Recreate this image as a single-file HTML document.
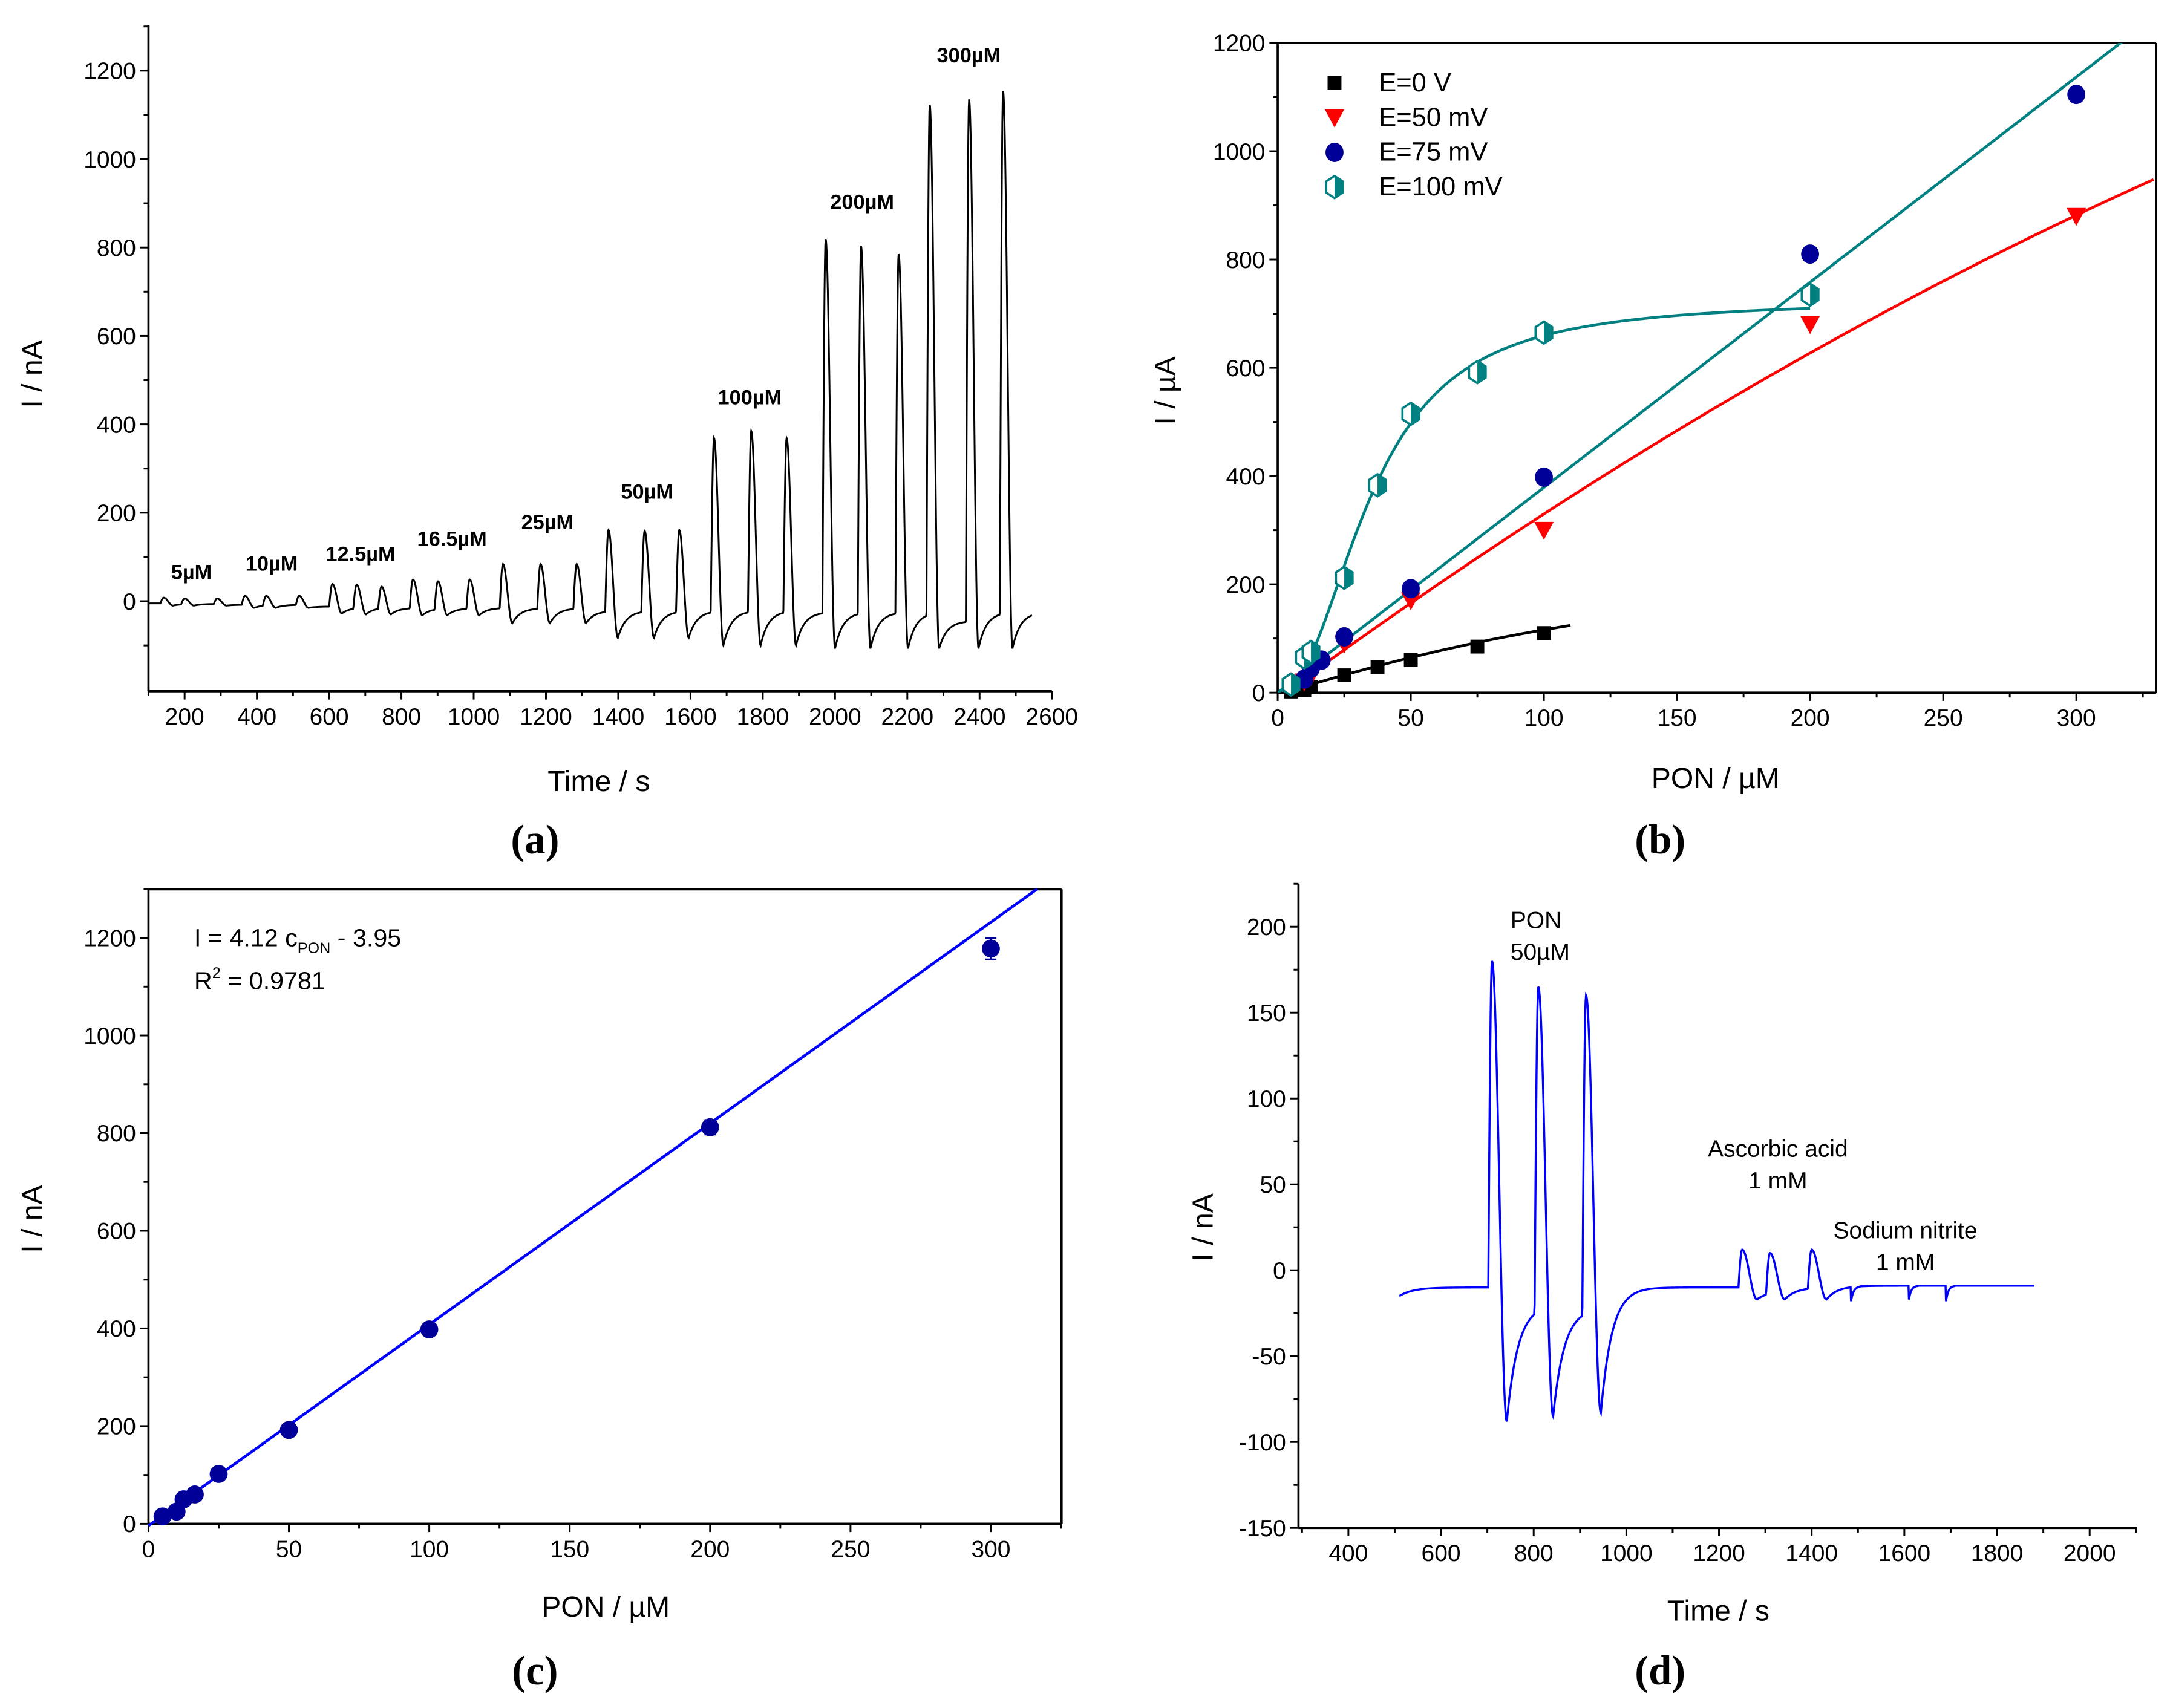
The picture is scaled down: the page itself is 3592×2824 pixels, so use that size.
<!DOCTYPE html>
<html><head><meta charset="utf-8"><style>
html,body{margin:0;padding:0;background:#fff;}
svg{display:block;}
text{font-family:"Liberation Sans",sans-serif;fill:#000;}
.n{font-family:"Liberation Sans Narrow","Liberation Sans",sans-serif;}
.s{font-family:"Liberation Serif",serif;font-weight:bold;}
</style></head><body>
<svg id="fig" xmlns="http://www.w3.org/2000/svg" width="3592" height="2824" viewBox="0 0 1568 1233"></svg>
<script>
// ---------- data ----------
// Panel (a)
const aPeakT=[142,200,290,367,426,517,609,676,745,832,901,989,1081,1185,1285,1373,1473,1569,1665,1768,1866,1974,2072,2176,2262,2371,2465];
const aPeakV=[8,6,6,12,12,12,39,37,33,49,45,49,84,84,84,161,159,161,369,385,369,819,803,785,1123,1135,1154];
const aPreV=[-5,-6,-6,-8,-8,-8,-12,-14,-14,-15,-16,-16,-15,-16,-16,-22,-22,-22,-22,-22,-22,-25,-25,-25,-25,-45,-25];
const aTroughV=[-10,-10,-10,-15,-15,-15,-28,-30,-30,-32,-32,-32,-50,-50,-50,-83,-83,-83,-100,-100,-100,-107,-107,-107,-107,-107,-107];
const aLabels=["5µM","10µM","12.5µM","16.5µM","25µM","50µM","100µM","200µM","300µM"];
const aLabelT=[219,441,687,940,1204,1480,1764,2075,2370];
const aLabelV=[50,69,91,125,163,232,445,887,1219];
// Panel (b)
const bX0=[5,10,12.5,25,37.5,50,75,100];
const bY0=[2,5,10,32,47,60,85,110];
const bX50=[5,10,12.5,25,50,100,200,300];
const bY50=[10,20,30,90,170,300,680,880];
const bX75=[5,10,12.5,16.5,25,50,100,200,300];
const bY75=[15,25,45,60,103,192,398,810,1105];
const bX100=[5,10,12.5,25,37.5,50,75,100,200];
const bY100=[15,65,75,212,383,515,592,665,735];
const bLegend=["E=0 V","E=50 mV","E=75 mV","E=100 mV"];
// Panel (c)
const cX=[5,10,12.5,16.5,25,50,100,200,300];
const cY=[15,25,50,60,102,192,398,812,1178];
const cErr=[3,3,3,3,4,5,6,15,22];
const cSlope=4.12, cIntercept=-3.95;
// Panel (d)
const dPeakT=[710,810,913,1250,1310,1400];
const dPeakV=[180,165,160,12,10,12];
const dPreV=[-10,-20,-22,-10,-12,-10];
const dTroughV=[-88,-85,-83,-17,-17,-17];
const dStepT=[1485,1610,1690];
const dStepV=[-18,-17,-18];
// ---------- helpers ----------
const svg=document.getElementById('fig');
const NS='http://www.w3.org/2000/svg';
function mk(tag,attrs,name,parent){
  const e=document.createElementNS(NS,tag);
  for(const k in attrs) e.setAttribute(k,attrs[k]);
  
  
  (parent||svg).appendChild(e);
  return e;
}
function txt(x,y,s,name,opt){
  opt=opt||{};
  const t=mk('text',{x:x,y:y,'font-size':opt.size||16,'text-anchor':opt.anchor||'middle',class:opt.cls||'',fill:opt.fill||'#000'},name,opt.parent);
  if(opt.rot) t.setAttribute('transform','rotate(-90 '+x+' '+y+')');
  if(opt.bold) t.setAttribute('font-weight','bold');
  t.textContent=s;
  return t;
}
function scale(d0,d1,r0,r1){return v=>r0+(v-d0)*(r1-r0)/(d1-d0);}
function axes(p){
  const g=mk('g',{},p.name+'-axes');
  const X=p.X,Y=p.Y;
  mk('line',{x1:p.l,y1:p.b,x2:p.r,y2:p.b,stroke:'#000','stroke-width':1.6},p.name+'-x-axis',g);
  mk('line',{x1:p.l,y1:p.t,x2:p.l,y2:p.b,stroke:'#000','stroke-width':1.6},p.name+'-y-axis',g);
  if(p.frame){
    mk('line',{x1:p.l,y1:p.t,x2:p.r,y2:p.t,stroke:'#000','stroke-width':1.6},p.name+'-top-frame',g);
    mk('line',{x1:p.r,y1:p.t,x2:p.r,y2:p.b,stroke:'#000','stroke-width':1.6},p.name+'-right-frame',g);
  }
  for(let v=p.xm0; v<=p.xmax+1e-6; v+=p.xminor){
    const major=Math.abs(((v-p.xM0)/p.xmajor)-Math.round((v-p.xM0)/p.xmajor))<1e-6;
    mk('line',{x1:X(v),y1:p.b,x2:X(v),y2:p.b+(major?6:3.5),stroke:'#000','stroke-width':1.3},p.name+'-x-tick',g);
    if(major) txt(X(v),p.b+24,String(v),p.name+'-x-tick-label',{size:p.fs,cls:p.cls,parent:g});
  }
  for(let v=p.ym0; v<=p.ymax+1e-6; v+=p.yminor){
    const major=Math.abs(((v-p.yM0)/p.ymajor)-Math.round((v-p.yM0)/p.ymajor))<1e-6 && v>=p.yLab0;
    mk('line',{x1:p.l,y1:Y(v),x2:p.l-(major?6:3.5),y2:Y(v),stroke:'#000','stroke-width':1.3},p.name+'-y-tick',g);
    if(major) txt(p.l-9,Y(v)+6,String(v),p.name+'-y-tick-label',{size:p.fs,anchor:'end',cls:p.cls,parent:g});
  }
}
function path(pts,X,Y){
  return pts.map((p,i)=>(i?'L':'M')+X(p[0]).toFixed(2)+' '+Y(p[1]).toFixed(2)).join('');
}
function trace(t0,t1,startV,endV,T,P,Pre,Tr,rise,fall,tau,stT,stV){
  const pts=[];
  function baseAt(t){
    let idx=-1;
    for(let i=0;i<T.length;i++) if(T[i]-rise<=t) idx=i;
    const target=(idx+1<T.length)?Pre[idx+1]:endV;
    if(idx<0) return startV+(Pre[0]-startV)*(1-Math.exp(-(t-t0)/30));
    const tp=T[idx];
    if(t<=tp) { const f=(t-(tp-rise))/rise; return Pre[idx]+(P[idx]-Pre[idx])*Math.sin(f*Math.PI/2); }
    if(t<=tp+fall){ const f=(t-tp)/fall; return P[idx]+(Tr[idx]-P[idx])*(0.5-0.5*Math.cos(f*Math.PI)); }
    return target+(Tr[idx]-target)*Math.exp(-(t-tp-fall)/tau);
  }
  for(let t=t0;t<=t1;t+=1){
    let v=baseAt(t);
    if(stT){ for(let i=0;i<stT.length;i++){ const dt=t-stT[i]; if(dt>=0&&dt<20) v+= (stV[i]-v)*Math.exp(-dt/5); } }
    pts.push([t,v]);
  }
  return pts;
}
// ---------- panel (a) ----------
(function(){
  const p={name:'panel-a',l:107,r:759,t:18,b:499,fs:17,cls:''};
  p.X=scale(100,2600,107,759); p.Y=scale(0,1200,434,51);
  p.xm0=100;p.xmax=2600;p.xminor=100;p.xM0=200;p.xmajor=200;
  p.ym0=-100;p.ymax=1300;p.yminor=100;p.yM0=0;p.ymajor=200;p.yLab0=0;
  axes(p);
  const pts=trace(100,2545,-5,-25,aPeakT,aPeakV,aPreV,aTroughV,9,26,22);
  mk('path',{d:path(pts,p.X,p.Y),fill:'none',stroke:'#000','stroke-width':1.3},'panel-a-current-trace');
  for(let i=0;i<aLabels.length;i++) txt(p.X(aLabelT[i]),p.Y(aLabelV[i]),aLabels[i],'panel-a-concentration-label',{size:15,bold:true});
  txt(30,270,'I / nA','panel-a-y-axis-title',{size:21,rot:true});
  txt(432,571,'Time / s','panel-a-x-axis-title',{size:21});
  txt(386,616,'(a)','panel-a-caption',{size:30,cls:'s'});
})();
// ---------- panel (b) ----------
(function(){
  const p={name:'panel-b',l:922,r:1556,t:31,b:500,fs:17,cls:'n',frame:true};
  p.X=scale(0,330,922,1556); p.Y=scale(0,1200,500,31);
  p.xm0=0;p.xmax=325;p.xminor=25;p.xM0=0;p.xmajor=50;
  p.ym0=0;p.ymax=1200;p.yminor=100;p.yM0=0;p.ymajor=200;p.yLab0=0;
  axes(p);
  const X=p.X,Y=p.Y;
  const clipR=mk('clipPath',{id:'clipb'},'panel-b-clip');
  mk('rect',{x:922,y:31,width:634,height:469},'panel-b-clip-rect',clipR);
  const fit=mk('g',{'clip-path':'url(#clipb)'},'panel-b-fits');
  let f0=[],f50=[],f75=[],f100=[];
  for(let x=3;x<=110;x+=1) f0.push([x,1.55*x-0.0035*x*x-4]);
  for(let x=3;x<=330;x+=2) f50.push([x,-10+3.613*x-0.002134*x*x]);
  for(let x=0;x<=320;x+=2) f75.push([x,3.79*x]);
  for(let x=3;x<=200;x+=1) f100.push([x,725*Math.pow(x,2.2)/(Math.pow(35,2.2)+Math.pow(x,2.2))]);
  mk('path',{d:path(f0,X,Y),fill:'none',stroke:'#000','stroke-width':2},'fit-line-e0',fit);
  mk('path',{d:path(f50,X,Y),fill:'none',stroke:'#ff0000','stroke-width':2},'fit-line-e50',fit);
  mk('path',{d:path(f75,X,Y),fill:'none',stroke:'#008080','stroke-width':2},'fit-line-e75',fit);
  mk('path',{d:path(f100,X,Y),fill:'none',stroke:'#008080','stroke-width':2},'fit-line-e100',fit);
  function sq(x,y,name){mk('rect',{x:x-5,y:y-5,width:10,height:10,fill:'#000'},name);}
  function tri(x,y,name){mk('path',{d:`M${x-7} ${y-6}L${x+7} ${y-6}L${x} ${y+7}Z`,fill:'#ff0000'},name);}
  function circ(x,y,name){mk('ellipse',{cx:x,cy:y,rx:6.5,ry:7,fill:'#000099'},name);}
  function hexm(x,y,name){
    mk('path',{d:`M${x} ${y-8}L${x+6} ${y-4}L${x+6} ${y+4}L${x} ${y+8}L${x-6} ${y+4}L${x-6} ${y-4}Z`,fill:'#fff',stroke:'#008080','stroke-width':1.6},name);
    mk('path',{d:`M${x} ${y-8}L${x+6} ${y-4}L${x+6} ${y+4}L${x} ${y+8}Z`,fill:'#008080'},name+'-fill');
  }
  for(let i=0;i<bX0.length;i++) sq(X(bX0[i]),Y(bY0[i]),'point-e0');
  for(let i=0;i<bX50.length;i++) tri(X(bX50[i]),Y(bY50[i]),'point-e50');
  for(let i=0;i<bX75.length;i++) circ(X(bX75[i]),Y(bY75[i]),'point-e75');
  for(let i=0;i<bX100.length;i++) hexm(X(bX100[i]),Y(bY100[i]),'point-e100');
  sq(963,60,'legend-marker-e0'); tri(963,85,'legend-marker-e50'); circ(963,110,'legend-marker-e75'); hexm(963,135,'legend-marker-e100');
  for(let i=0;i<4;i++) txt(995,66+i*25,bLegend[i],'legend-entry',{size:19,anchor:'start'});
  txt(848,282,'I / µA','panel-b-y-axis-title',{size:21,rot:true});
  txt(1238,569,'PON / µM','panel-b-x-axis-title',{size:21});
  txt(1198,616,'(b)','panel-b-caption',{size:30,cls:'s'});
})();
// ---------- panel (c) ----------
(function(){
  const p={name:'panel-c',l:107,r:766,t:642,b:1100,fs:17,cls:'n',frame:true};
  p.X=scale(0,300,107,715); p.Y=scale(0,1200,1100,677);
  p.xm0=0;p.xmax=325;p.xminor=25;p.xM0=0;p.xmajor=50;
  p.ym0=0;p.ymax=1300;p.yminor=100;p.yM0=0;p.ymajor=200;p.yLab0=0;
  axes(p);
  const X=p.X,Y=p.Y;
  const xEnd=(1300-cIntercept)/cSlope;
  mk('line',{x1:X(0),y1:Y(cIntercept),x2:X(xEnd),y2:Y(1300),stroke:'#0000ff','stroke-width':2},'panel-c-fit-line');
  for(let i=0;i<cX.length;i++){
    const x=X(cX[i]);
    mk('line',{x1:x,y1:Y(cY[i]-cErr[i]),x2:x,y2:Y(cY[i]+cErr[i]),stroke:'#000099','stroke-width':1.2},'panel-c-error-bar');
    mk('line',{x1:x-4,y1:Y(cY[i]-cErr[i]),x2:x+4,y2:Y(cY[i]-cErr[i]),stroke:'#000099','stroke-width':1.2},'panel-c-error-cap');
    mk('line',{x1:x-4,y1:Y(cY[i]+cErr[i]),x2:x+4,y2:Y(cY[i]+cErr[i]),stroke:'#000099','stroke-width':1.2},'panel-c-error-cap');
    mk('ellipse',{cx:x,cy:Y(cY[i]),rx:6.5,ry:6.5,fill:'#000099'},'panel-c-point');
  }
  const eq=txt(140,683,'','panel-c-equation',{size:18,anchor:'start'});
  eq.innerHTML='I = 4.12 c<tspan font-size="11" dy="5">PON</tspan><tspan dy="-5"> - 3.95</tspan>';
  const r2=txt(140,714,'','panel-c-r-squared',{size:18,anchor:'start'});
  r2.innerHTML='R<tspan font-size="11" dy="-8">2</tspan><tspan dy="8"> = 0.9781</tspan>';
  txt(30,880,'I / nA','panel-c-y-axis-title',{size:21,rot:true});
  txt(437,1167,'PON / µM','panel-c-x-axis-title',{size:21});
  txt(386,1216,'(c)','panel-c-caption',{size:30,cls:'s'});
})();
// ---------- panel (d) ----------
(function(){
  const p={name:'panel-d',l:937,r:1542,t:638,b:1103,fs:17,cls:'n'};
  p.X=scale(400,2000,973,1508); p.Y=scale(0,200,917,669);
  p.xm0=300;p.xmax=2100;p.xminor=100;p.xM0=400;p.xmajor=200;
  p.ym0=-150;p.ymax=225;p.yminor=25;p.yM0=-150;p.ymajor=50;p.yLab0=-150;
  axes(p);
  const pts=trace(510,1880,-15,-9,dPeakT,dPeakV,dPreV,dTroughV,8,32,24,dStepT,dStepV);
  mk('path',{d:path(pts,p.X,p.Y),fill:'none',stroke:'#0000ff','stroke-width':1.5},'panel-d-current-trace');
  txt(1090,670,'PON','annotation-pon',{size:17,anchor:'start',cls:'n'});
  txt(1090,693,'50µM','annotation-pon-conc',{size:17,anchor:'start',cls:'n'});
  txt(1283,835,'Ascorbic acid','annotation-ascorbic-acid',{size:17,cls:'n'});
  txt(1283,858,'1 mM','annotation-ascorbic-conc',{size:17,cls:'n'});
  txt(1375,894,'Sodium nitrite','annotation-sodium-nitrite',{size:17,cls:'n'});
  txt(1375,917,'1 mM','annotation-nitrite-conc',{size:17,cls:'n'});
  txt(875,886,'I / nA','panel-d-y-axis-title',{size:21,rot:true});
  txt(1240,1170,'Time / s','panel-d-x-axis-title',{size:21});
  txt(1198,1216,'(d)','panel-d-caption',{size:30,cls:'s'});
})();
</script>
</body></html>
